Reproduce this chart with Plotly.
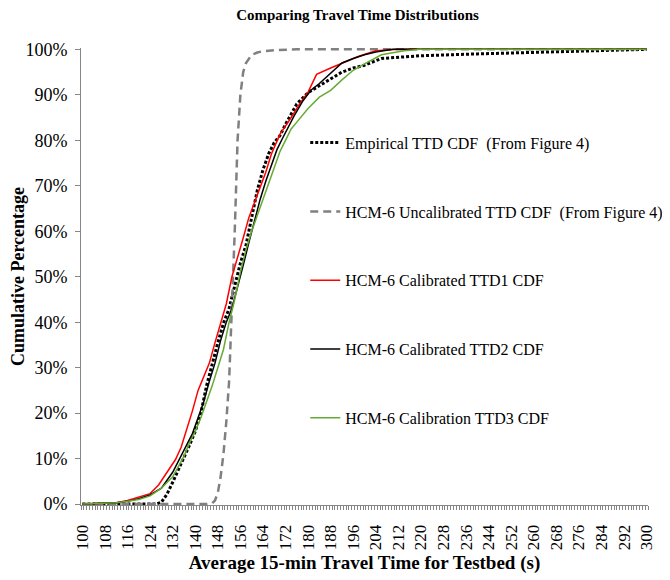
import plotly.graph_objects as go

# Empirical TTD CDF (From Figure 4)
emp_x = [100, 126, 128, 130, 132, 134, 136, 138, 140, 142, 144, 146, 148, 150, 152, 154, 156, 158,
         160, 162, 164, 166, 168, 170, 172, 176, 180, 184, 188, 192, 196, 200, 206, 220, 240, 260, 280, 300]
emp_y = [0, 0, 0.4, 2.2, 4.8, 7.5, 10, 13, 16, 20, 26, 31, 35.5, 39.8, 43, 48, 53, 57, 63, 69, 73.5,
         77, 79.5, 81, 83.5, 88, 90.5, 92, 93.6, 95, 95.9, 96.5, 98, 98.6, 99, 99.3, 99.7, 100]

# HCM-6 Uncalibrated TTD CDF (From Figure 4)
unc_x = [100, 144, 146, 147, 148, 149, 150, 151, 152, 153, 154, 155, 156, 157, 158, 160, 162, 164, 168, 176, 190, 300]
unc_y = [0, 0, 0.2, 0.8, 2.5, 6, 11, 18, 27, 42, 60, 80, 90, 95, 97, 98.8, 99.3, 99.6, 99.8, 100, 100, 100]

# HCM-6 Calibrated TTD1 CDF
t1_x = [100, 112, 116, 120, 124, 127, 130, 133, 135, 137, 139, 141, 143, 145, 147, 149, 151, 153, 155,
        157, 159, 161, 163, 165, 167, 170, 174, 177, 180, 183, 188, 192, 198, 204, 212, 300]
t1_y = [0, 0.3, 0.8, 1.5, 2.3, 4.2, 7.0, 9.8, 12.5, 16.4, 20.5, 25, 28, 31, 35.5, 40, 44, 50, 54,
        58.5, 63, 66.5, 69.7, 73, 77, 81.3, 85, 88, 90.6, 94.5, 95.9, 97, 98.5, 99.7, 100, 100]

# HCM-6 Calibrated TTD2 CDF
t2_x = [100, 112, 116, 120, 124, 128, 132, 135, 137, 139, 141, 143, 145, 147, 149, 151, 153, 155, 157,
        159, 161, 163, 165, 167, 169, 171, 173, 175, 178, 181, 184, 188, 192, 196, 200, 204, 210, 300]
t2_y = [0, 0.3, 0.6, 1.2, 2.0, 3.5, 7.0, 10.5, 13, 15.5, 19, 22.5, 27, 31, 36, 40, 43, 47.5, 52.5,
        57.5, 62.5, 67, 71, 74.5, 78, 80.5, 83, 85.3, 88.5, 91, 92.5, 94.8, 97, 98, 98.8, 99.4, 100, 100]

# HCM-6 Calibration TTD3 CDF
t3_x = [100, 112, 116, 120, 124, 128, 132, 136, 138, 140, 142, 144, 146, 148, 150, 152, 154, 156, 158,
        160, 162, 164, 166, 168, 170, 172, 174, 176, 180, 184, 188, 192, 196, 200, 206, 214, 220, 300]
t3_y = [0, 0.3, 0.6, 1.0, 1.8, 3.5, 6.0, 10.5, 13.5, 16, 19, 22.5, 26, 30, 34, 40, 45, 51, 56,
        60, 63.5, 67, 70.5, 74, 77.5, 80, 82.5, 84, 87, 89.5, 91, 93.3, 95.4, 96.8, 98.8, 99.7, 100, 100]

x_ticks = list(range(100, 301, 8))

SERIF = "Liberation Serif, Times New Roman, serif"

series = [
    ("Empirical TTD CDF  (From Figure 4)", emp_x, emp_y, dict(color="#000000", width=3, dash="3px,2px")),
    ("HCM-6 Uncalibrated TTD CDF  (From Figure 4)", unc_x, unc_y, dict(color="#808080", width=2.5, dash="8px,5px")),
    ("HCM-6 Calibrated TTD1 CDF", t1_x, t1_y, dict(color="#FF0000", width=1.5)),
    ("HCM-6 Calibrated TTD2 CDF", t2_x, t2_y, dict(color="#000000", width=1.5)),
    ("HCM-6 Calibration TTD3 CDF", t3_x, t3_y, dict(color="#66AA33", width=1.5)),
]

fig = go.Figure()
for i, (name, xs, ys, line) in enumerate(series):
    fig.add_trace(go.Scatter(
        x=xs, y=ys, mode="lines", name=name, line=line,
        legendgroup=f"g{i}",
    ))

# the page body adds an 8px offset, margins are set with that in mind;
# the figure is a bit wider than the window so the legend has room on the right
fig.update_layout(
    width=690, height=580,
    margin=dict(l=73, r=50, t=40, b=83),
    plot_bgcolor="white",
    paper_bgcolor="white",
    font=dict(family=SERIF, size=16, color="#000000"),
    title=dict(
        text="<b>Comparing Travel Time Distributions</b>",
        font=dict(family=SERIF, size=15, color="#000000"),
        x=349.5 / 690, xanchor="center", y=0.988, yanchor="middle",
    ),
    showlegend=True,
    legend=dict(
        x=0.3955, xanchor="left", y=0.83, yanchor="top",
        bgcolor="rgba(0,0,0,0)",
        font=dict(family=SERIF, size=16),
        tracegroupgap=45,
    ),
    xaxis=dict(
        range=[99.5, 300.5],
        tickvals=x_ticks,
        ticktext=[str(v) for v in x_ticks],
        tickangle=-90,
        ticks="",
        ticklabelstandoff=12,
        tickfont=dict(family=SERIF, size=17),
        minor=dict(ticks="outside", tick0=99.5, dtick=1, ticklen=4, tickcolor="#868686"),
        showline=True, linecolor="#868686", linewidth=1,
        showgrid=False, zeroline=False,
        automargin=False,
        title=dict(text="<b>Average 15-min Travel Time for Testbed (s)</b>",
                   font=dict(family=SERIF, size=19), standoff=6),
    ),
    yaxis=dict(
        range=[-0.2, 100.3],
        tickvals=list(range(0, 101, 10)),
        ticktext=[f"{v}%" for v in range(0, 101, 10)],
        ticks="outside", ticklen=5, tickcolor="#868686",
        ticklabelstandoff=4,
        tickfont=dict(family=SERIF, size=18),
        showline=True, linecolor="#868686", linewidth=1,
        showgrid=False, zeroline=False,
        automargin=False,
        title=dict(text="<b>Cumulative Percentage</b>",
                   font=dict(family=SERIF, size=18), standoff=4),
    ),
)

fig.write_html("out.html")
